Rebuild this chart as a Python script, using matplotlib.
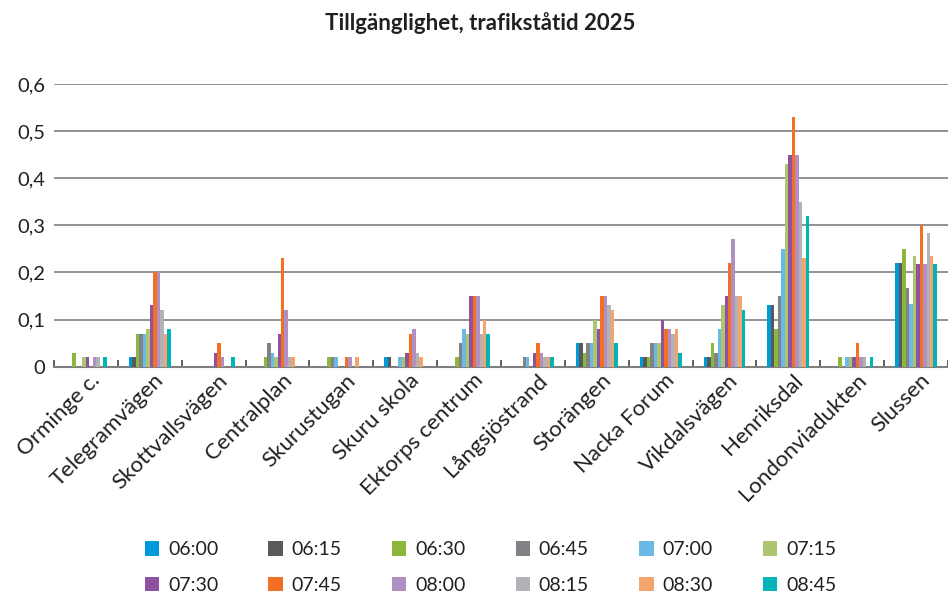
import matplotlib
matplotlib.use("Agg")
import matplotlib.pyplot as plt
import matplotlib.transforms as mtransforms
from matplotlib.patches import Patch
import numpy as np

plt.rcParams['font.family'] = ['Lato', 'DejaVu Sans']

stops = ["Orminge c.", "Telegramvägen", "Skottvallsvägen", "Centralplan", "Skurustugan",
         "Skuru skola", "Ektorps centrum", "Långsjöstrand", "Storängen", "Nacka Forum",
         "Vikdalsvägen", "Henriksdal", "Londonviadukten", "Slussen"]

times = ["06:00", "06:15", "06:30", "06:45", "07:00", "07:15",
         "07:30", "07:45", "08:00", "08:15", "08:30", "08:45"]

t0600 = [0, 0.02, 0, 0, 0, 0.02, 0, 0, 0.05, 0.02, 0.02, 0.13, 0, 0.22]
t0615 = [0, 0.02, 0, 0, 0, 0.02, 0, 0, 0.05, 0.02, 0.02, 0.13, 0, 0.22]
t0630 = [0.03, 0.07, 0, 0.02, 0.02, 0, 0.02, 0, 0.03, 0.02, 0.05, 0.08, 0.02, 0.25]
t0645 = [0, 0.07, 0, 0.05, 0.02, 0, 0.05, 0.02, 0.05, 0.05, 0.03, 0.15, 0, 0.167]
t0700 = [0, 0.07, 0, 0.03, 0.02, 0.02, 0.08, 0.02, 0.05, 0.05, 0.08, 0.25, 0.02, 0.133]
t0715 = [0.02, 0.08, 0, 0.02, 0, 0.02, 0.07, 0, 0.10, 0.05, 0.13, 0.43, 0.02, 0.235]
t0730 = [0.02, 0.13, 0.03, 0.07, 0, 0.03, 0.15, 0.03, 0.08, 0.10, 0.15, 0.45, 0.02, 0.218]
t0745 = [0, 0.20, 0.05, 0.23, 0.02, 0.07, 0.15, 0.05, 0.15, 0.08, 0.22, 0.53, 0.05, 0.30]
t0800 = [0.02, 0.20, 0.02, 0.12, 0.02, 0.08, 0.15, 0.03, 0.15, 0.08, 0.27, 0.45, 0.02, 0.218]
t0815 = [0.02, 0.12, 0, 0.02, 0, 0.03, 0.07, 0.02, 0.13, 0.07, 0.15, 0.35, 0.02, 0.284]
t0830 = [0, 0.07, 0, 0.02, 0.02, 0.02, 0.10, 0.02, 0.12, 0.08, 0.15, 0.23, 0, 0.235]
t0845 = [0.02, 0.08, 0.02, 0, 0, 0, 0.07, 0.02, 0.05, 0.03, 0.12, 0.32, 0.02, 0.218]

series = [t0600, t0615, t0630, t0645, t0700, t0715,
          t0730, t0745, t0800, t0815, t0830, t0845]

colors = ["#009ADB", "#58595B", "#8DB63C", "#808285", "#6BB9E5", "#ADC56F",
          "#8E52A1", "#F36F21", "#B08FC2", "#B1B3B6", "#F6A46E", "#00B4BA"]

yticks = [0, 0.1, 0.2, 0.3, 0.4, 0.5, 0.6]
ytick_labels = ["0", "0,1", "0,2", "0,3", "0,4", "0,5", "0,6"]

text_color = "#231f20"

fig = plt.figure(figsize=(9.48, 5.94), dpi=100)
ax = fig.add_axes([0.057, 0.3827, 0.943, 0.4759])

x = np.arange(len(stops))
n = len(series)
w = 0.0545
for k, (vals, c) in enumerate(zip(series, colors)):
    ax.bar(x + (k - (n - 1) / 2) * w, vals, width=w, color=c, linewidth=0, zorder=3)

ax.set_xlim(-0.5, len(stops) - 0.5)
ax.set_ylim(0, 0.6)

ax.set_yticks(yticks)
ax.set_yticklabels(ytick_labels, fontsize=14.5, color=text_color)
ax.tick_params(axis='y', length=0, pad=6.5)
ax.yaxis.grid(True, color="#7f7f7f", linewidth=1.2, zorder=0)
ax.set_axisbelow(True)

ax.set_xticks(x)
ax.set_xticklabels(stops, rotation=45, ha='right', va='top', rotation_mode='anchor',
                   fontsize=16, color=text_color)
ax.tick_params(axis='x', which='major', length=0, pad=2.5)
shift = mtransforms.ScaledTranslation(4 / 100, 0, fig.dpi_scale_trans)
for lbl in ax.get_xticklabels():
    lbl.set_transform(lbl.get_transform() + shift)
ax.set_xticks(np.arange(len(stops) + 1) - 0.5, minor=True)
ax.tick_params(axis='x', which='minor', direction='in', length=5, width=1.2, color="#444444")

for side in ['left', 'right', 'top']:
    ax.spines[side].set_visible(False)
ax.spines['bottom'].set_color("#7f7f7f")
ax.spines['bottom'].set_linewidth(1.5)

fig.text(0.5068, 0.962, "Tillgänglighet, trafikståtid 2025", ha='center', va='center',
         fontsize=16, fontweight='bold', color=text_color)

# legend filled row by row (matplotlib fills columns first)
ncol = 6
order = [r * ncol + c for c in range(ncol) for r in range(2)]
handles = [Patch(facecolor=colors[i], edgecolor='none') for i in order]
labels = [times[i] for i in order]
fig.legend(handles, labels, loc='center', bbox_to_anchor=(0.5174, 0.0445), ncol=ncol,
           frameon=False, fontsize=14, handlelength=0.75, handleheight=0.75,
           handletextpad=0.44, columnspacing=2.58, labelspacing=0.95,
           labelcolor=text_color, borderpad=0)

fig.savefig("out.png", dpi=100)
